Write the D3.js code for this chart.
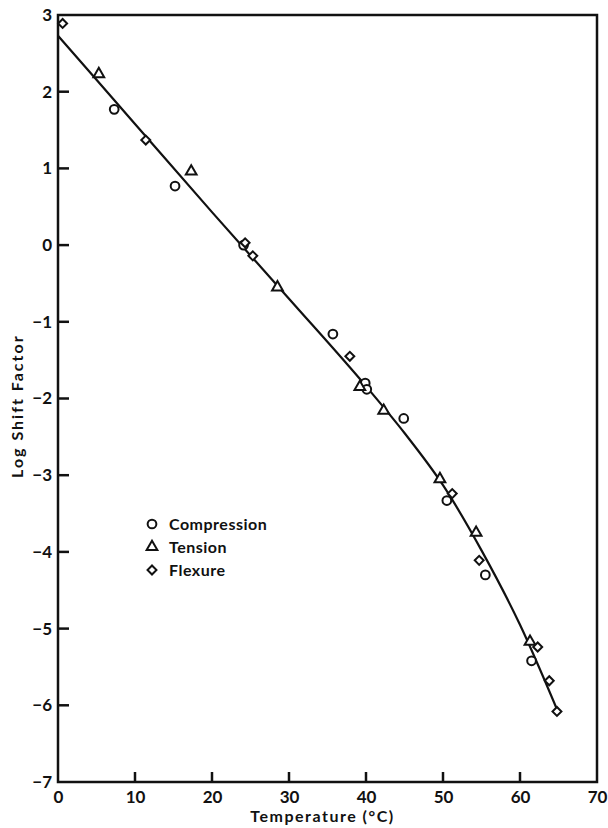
<!DOCTYPE html>
<html>
<head>
<meta charset="utf-8">
<script src="https://cdn.jsdelivr.net/npm/d3@7"></script>
<style>
  body { margin: 0; background: #fff; }
  text { font-family: Lato, "DejaVu Sans", sans-serif; font-weight: bold; fill: #111; }
</style>
</head>
<body>
<svg width="608" height="828"></svg>
<script>
// readings taken off the plot
var compression = [[7.3, 1.77], [15.2, 0.77], [24.1, 0.0], [35.7, -1.16], [39.9, -1.80], [40.1, -1.88],
                   [44.9, -2.26], [50.5, -3.33], [55.5, -4.30], [61.5, -5.42]];
var tension = [[5.3, 2.23], [17.3, 0.96], [28.5, -0.55], [39.2, -1.85], [42.3, -2.16],
               [49.6, -3.05], [54.3, -3.75], [61.3, -5.17]];
var flexure = [[0.6, 2.89], [11.4, 1.37], [24.3, 0.03], [25.3, -0.14], [37.9, -1.45],
               [51.2, -3.24], [54.7, -4.11], [62.3, -5.24], [63.8, -5.68], [64.8, -6.08]];
var fitCurve = [[0, 2.73], [10, 1.58], [20, 0.43], [30, -0.70], [40, -1.84], [45, -2.45],
                [50, -3.13], [55, -3.98], [60, -4.95], [65, -6.10]];
var xTicks = [0, 10, 20, 30, 40, 50, 60, 70];
var yTicks = [3, 2, 1, 0, -1, -2, -3, -4, -5, -6, -7];
var legendNames = ["Compression", "Tension", "Flexure"];

var svg = d3.select("svg"),
    margin = {top: 15, right: 11, bottom: 46, left: 58},
    width = +svg.attr("width") - margin.left - margin.right,
    height = +svg.attr("height") - margin.top - margin.bottom,
    g = svg.append("g").attr("transform", "translate(" + margin.left + "," + margin.top + ")");

var x = d3.scaleLinear().domain([0, 70]).range([0, width]);
var y = d3.scaleLinear().domain([-7, 3]).range([height, 0]);

// axes: labels from d3, tick marks drawn inward by hand below
var xa = g.append("g")
    .attr("transform", "translate(0," + height + ")")
    .call(d3.axisBottom(x).tickValues(xTicks).tickSize(0).tickPadding(8).tickFormat(d3.format("d")));
xa.select(".domain").remove();
xa.selectAll("text").style("font-size", "17px").attr("dy", "0.75em");

var ya = g.append("g")
    .call(d3.axisLeft(y).tickValues(yTicks).tickSize(0).tickPadding(6).tickFormat(d3.format("d")));
ya.select(".domain").remove();
ya.selectAll("text").style("font-size", "17px");

g.append("g").selectAll("line")
  .data(xTicks.slice(1, -1))
  .join("line")
    .attr("x1", function(d) { return x(d); }).attr("x2", function(d) { return x(d); })
    .attr("y1", height).attr("y2", height - 10)
    .attr("stroke", "#111").attr("stroke-width", 2.5);

g.append("g").selectAll("line")
  .data(yTicks.slice(1, -1))
  .join("line")
    .attr("x1", 0).attr("x2", 11)
    .attr("y1", function(d) { return y(d); }).attr("y2", function(d) { return y(d); })
    .attr("stroke", "#111").attr("stroke-width", 2.5);

// frame
g.append("rect")
    .attr("width", width).attr("height", height)
    .attr("fill", "none").attr("stroke", "#111").attr("stroke-width", 2.5);

// axis titles
svg.append("text")
    .attr("x", margin.left + x(35) - 5).attr("y", 822)
    .attr("text-anchor", "middle")
    .style("font-size", "16px").style("letter-spacing", "1.5px")
    .text("Temperature (°C)");

svg.append("text")
    .attr("transform", "translate(23," + (margin.top + y(-2.1)) + ") rotate(-90)")
    .attr("text-anchor", "middle")
    .style("font-size", "16px").style("letter-spacing", "2px")
    .text("Log Shift Factor");

// fitted curve
var line = d3.line()
    .x(function(d) { return x(d[0]); })
    .y(function(d) { return y(d[1]); })
    .curve(d3.curveMonotoneX);

g.append("path")
    .datum(fitCurve)
    .attr("fill", "none").attr("stroke", "#111").attr("stroke-width", 2.2)
    .attr("d", line);

// markers
var circleSym = d3.symbol().type(d3.symbolCircle).size(60);
var triSym = d3.symbol().type(d3.symbolTriangle).size(50);
var diaSym = d3.symbol().type(d3.symbolSquare).size(40);

function drawMarks(data, sym, rot) {
  g.append("g").selectAll("path")
    .data(data)
    .join("path")
      .attr("transform", function(d) { return "translate(" + x(d[0]) + "," + y(d[1]) + ") rotate(" + rot + ")"; })
      .attr("d", sym)
      .attr("fill", "#fff").attr("stroke", "#111").attr("stroke-width", 2);
}
drawMarks(compression, circleSym, 0);
drawMarks(tension, triSym, 0);
drawMarks(flexure, diaSym, 45);

// legend
var syms = [[circleSym, 0], [triSym, 0], [diaSym, 45]];
var leg = svg.append("g").attr("transform", "translate(152,524)");
legendNames.forEach(function(name, i) {
  leg.append("path")
      .attr("transform", "translate(0," + (i * 23) + ") rotate(" + syms[i][1] + ")")
      .attr("d", syms[i][0])
      .attr("fill", "#fff").attr("stroke", "#111").attr("stroke-width", 2);
  leg.append("text")
      .attr("x", 17).attr("y", i * 23).attr("dy", "0.35em")
      .style("font-size", "16px").style("letter-spacing", "0.5px")
      .text(name);
});
</script>
</body>
</html>
